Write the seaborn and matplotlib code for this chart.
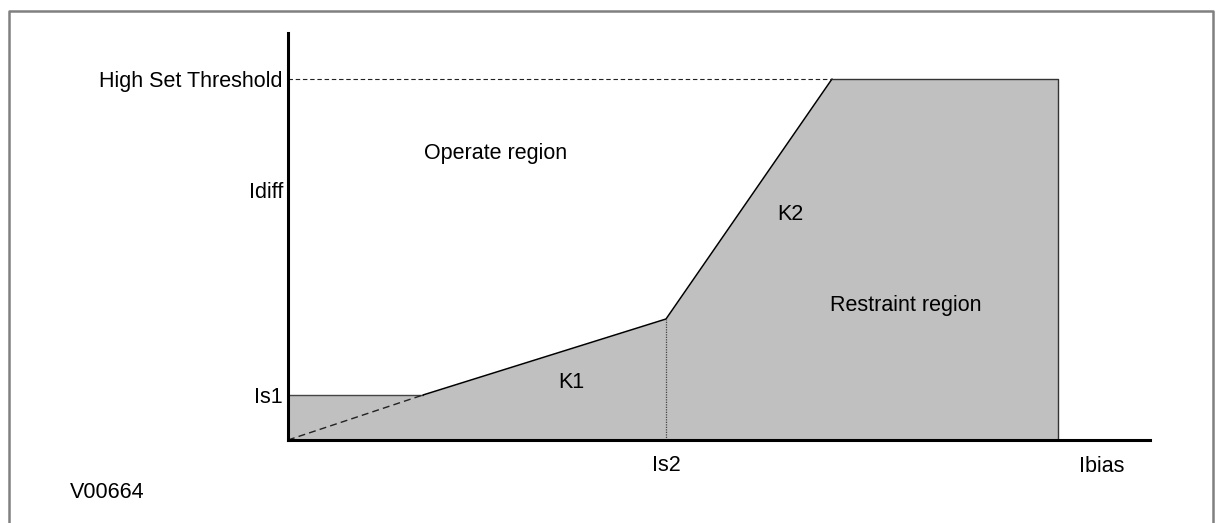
import matplotlib
matplotlib.use("Agg")
import matplotlib.pyplot as plt
from matplotlib.lines import Line2D
import pandas as pd
import seaborn as sns

# Breakpoints of the biased differential characteristic
bias_pts = [0.0, 1.35, 3.78, 5.44, 7.70]
diff_pts = [0.45, 0.45, 1.21, 3.61, 3.61]

is1_level = 0.45
is2_bias = 3.78
high_set = 3.61
x_max, y_max = 8.62, 4.07

ytick_vals = [is1_level, high_set]
ytick_labels = ["Is1", "High Set Threshold"]
xtick_vals = [is2_bias]
xtick_labels = ["Is2"]

sns.set_theme(style="white")
plt.rcParams["font.family"] = ["Liberation Sans", "DejaVu Sans"]
plt.rcParams["text.color"] = "black"
FS = 15.5

fig = plt.figure(figsize=(12.19, 5.23), dpi=100)
ax = fig.add_axes([288 / 1219, 83 / 523, 862 / 1219, 407 / 523])

# restraint region (shaded)
ax.fill_between(bias_pts + [bias_pts[-1]], diff_pts + [0.0], 0,
                color="#c0c0c0", lw=0, zorder=1)

# Is1 flat part
edge = pd.DataFrame({"x": bias_pts[:2], "y": diff_pts[:2]})
sns.lineplot(data=edge, x="x", y="y", ax=ax, color="#444444", lw=1.0,
             estimator=None, sort=False, zorder=3)
# K1 and K2 slopes
slopes = pd.DataFrame({"x": bias_pts[1:4], "y": diff_pts[1:4]})
sns.lineplot(data=slopes, x="x", y="y", ax=ax, color="black", lw=1.1,
             estimator=None, sort=False, zorder=3)
# high-set plateau and right-hand limit
top = pd.DataFrame({"x": bias_pts[3:] + [bias_pts[-1]],
                    "y": diff_pts[3:] + [0.0]})
sns.lineplot(data=top, x="x", y="y", ax=ax, color="#333333", lw=1.0,
             estimator=None, sort=False, zorder=3)

# K1 slope extended back to the origin
ax.plot([0, bias_pts[1]], [0, diff_pts[1]], color="#222222", lw=1.0,
        ls=(0, (5, 3)), zorder=3)
# high-set threshold guide
ax.plot([0, bias_pts[3]], [high_set, high_set], color="#222222", lw=0.8,
        ls=(0, (4, 2.5)), zorder=3)
# Is2 marker
ax.plot([is2_bias, is2_bias], [0, diff_pts[2]], color="#444444", lw=0.9,
        ls=(0, (1, 1)), zorder=3)

ax.set_xlim(0, x_max)
ax.set_ylim(0, y_max)
ax.set_xticks(xtick_vals, xtick_labels, fontsize=FS)
ax.set_yticks(ytick_vals, ytick_labels, fontsize=FS)
ax.tick_params(axis="both", length=0, colors="black", labelcolor="black")
ax.tick_params(axis="y", pad=4)
ax.tick_params(axis="x", pad=11)
ax.set_xlabel("")
ax.set_ylabel("")

for side in ["top", "right"]:
    ax.spines[side].set_visible(False)
for side in ["left", "bottom"]:
    ax.spines[side].set_color("black")
    ax.spines[side].set_linewidth(2.2)
    ax.spines[side].set_zorder(5)

ax.text(-0.045, 2.47, "Idiff", fontsize=FS, ha="right", va="center",
        clip_on=False)
ax.text(2.08, 2.87, "Operate region", fontsize=FS, ha="center", va="center")
ax.text(2.83, 0.58, "K1", fontsize=FS, ha="center", va="center")
ax.text(5.02, 2.26, "K2", fontsize=FS, ha="center", va="center")
ax.text(6.18, 1.35, "Restraint region", fontsize=FS, ha="center", va="center")
ax.text(8.14, -0.26, "Ibias", fontsize=FS, ha="center", va="center",
        clip_on=False)
fig.text(70 / 1219, 1 - 492 / 523, "V00664", fontsize=FS, ha="left",
         va="center")

# frame around the figure (open at the bottom)
fx = [9 / 1219, 9 / 1219, 1213 / 1219, 1213 / 1219]
fy = [-0.05, 1 - 11 / 523, 1 - 11 / 523, -0.05]
fig.add_artist(Line2D(fx, fy, color="#808080", lw=1.8,
                      transform=fig.transFigure))

fig.savefig("out.png", dpi=100, facecolor="white")
